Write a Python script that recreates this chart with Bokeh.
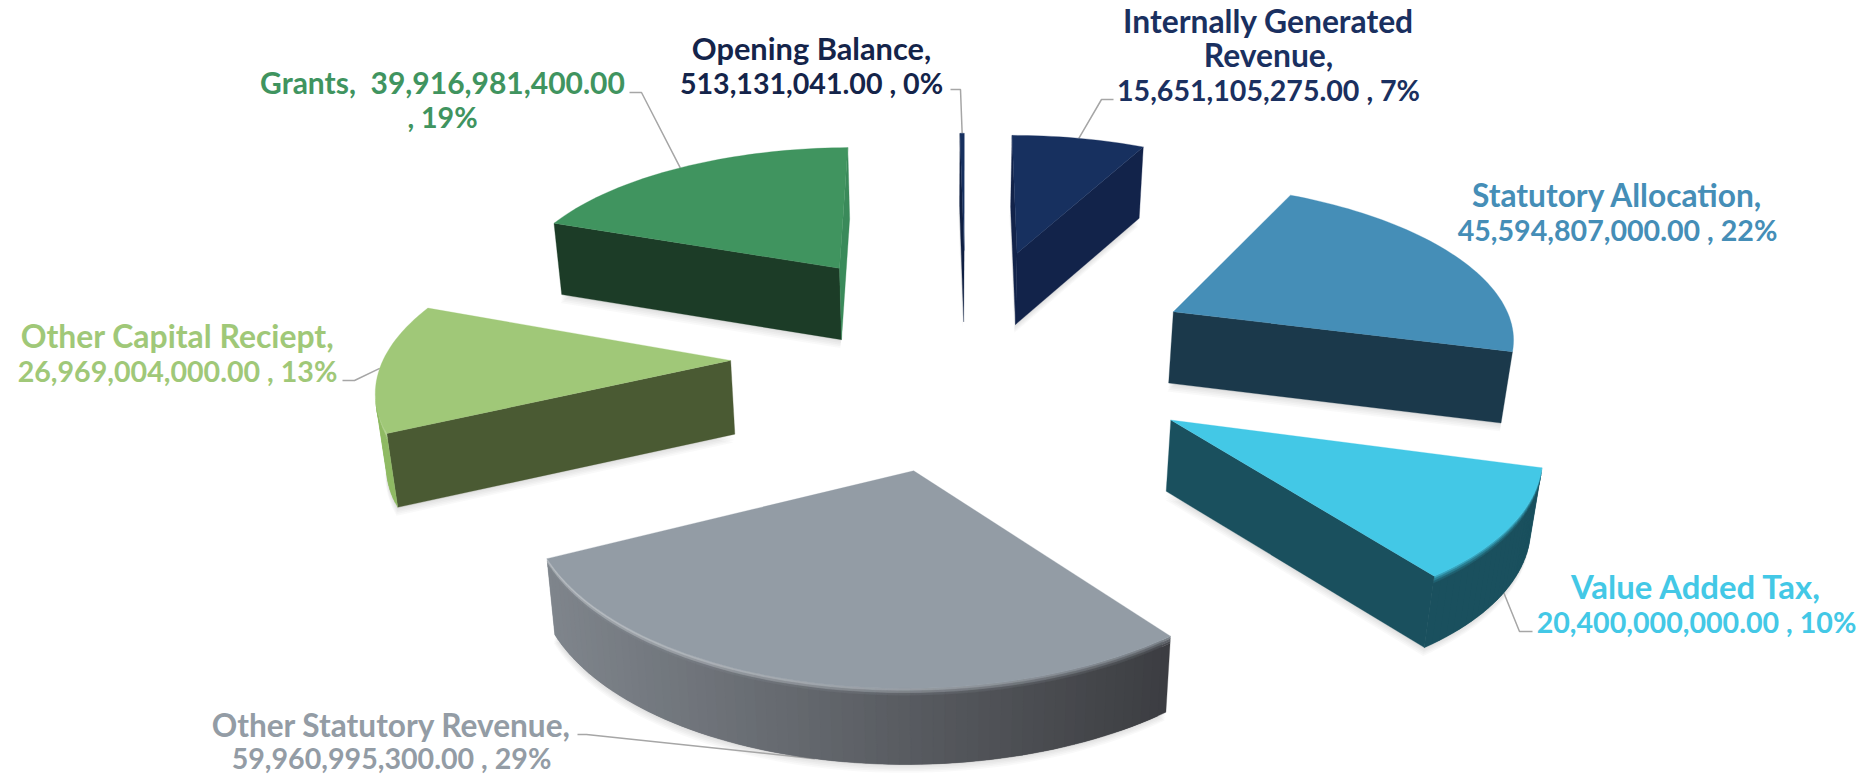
import math
from bokeh.plotting import figure
from bokeh.models import Range1d
from bokeh.embed import file_html
from bokeh.resources import INLINE
from bokeh.core.properties import value

# ---------- data ----------
categories = ["Internally Generated Revenue", "Statutory Allocation", "Value Added Tax",
              "Other Statutory Revenue", "Other Capital Reciept", "Grants", "Opening Balance"]
amounts = [15651105275.00, 45594807000.00, 20400000000.00, 59960995300.00,
           26969004000.00, 39916981400.00, 513131041.00]
label_lines = [
    ["Internally Generated", "Revenue,", "15,651,105,275.00 , 7%"],
    ["Statutory Allocation,", "45,594,807,000.00 , 22%"],
    ["Value Added Tax,", "20,400,000,000.00 , 10%"],
    ["Other Statutory Revenue,", "59,960,995,300.00 , 29%"],
    ["Other Capital Reciept,", "26,969,004,000.00 , 13%"],
    ["Grants,\u00a0\u00a039,916,981,400.00", ", 19%"],
    ["Opening Balance,", "513,131,041.00 , 0%"],
]

# ---------- styles ----------
top_col = ["#17305f", "#458eb7", "#43c8e6", "#939ca5", "#a0c878", "#40945f", "#17305f"]
cut_start_col = ["#12234a", "#1b394b", "#1a505e", "#3c3d41", "#4a5a33", "#1c3c27", "#0f1f42"]
cut_end_col = ["#12234a", "#1b394b", "#1a505e", "#3c3d41", "#4a5a33", "#3a8a5a", "#0f1f42"]
arc_left = ["#12234a", "#2d6585", "#1a505e", "#7f858c", "#8fba64", "#2f7a4c", "#0f1f42"]
arc_right = ["#12234a", "#2d6585", "#1a505e", "#3c3d41", "#8fba64", "#2f7a4c", "#0f1f42"]
rim_light = [0, 0, 0, .4, .35, 0, 0]
label_col = ["#1a3060", "#458eb7", "#43c8e6", "#939ca5", "#a0c878", "#40945f", "#14244a"]
# label centre x and first-line y, full-size pixels
label_x = [1268, 1617, 1696, 391, 177, 442, 811]
label_y = [20, 194, 586, 724, 335, 81, 48]
line_h = [34.5, 35, 35, 33, 35, 35, 34]
name_px = [31.8, 31.7, 32.9, 31.6, 31.9, 30.0, 30.8]
NUM_PX = 28.6
# leader elbow points from the label (full-size px), and whether the anchor is on the lower rim
leader_pts = [[(1113, 99), (1101, 99)], None, [(1532, 631), (1519, 631)], [(577, 734), (586, 734)],
              [(342, 380), (354, 380)], [(629, 92), (641, 92)], [(950, 89), (960, 89)]]
leader_low = [False, False, True, True, False, False, False]
FONT = "Lato"

# ---------- projection (in 1568-wide units) ----------
S = 1864 / 1568
CU, CV, F, B, A = 815.0, 298.0, 280.0, 131.0, 0.125
EXPLODE = 0.73
EX, RX = 0.94, 1.04
height = [60, 60, 60, 64, 62, 60, 60]
nudge = [(-1, 0), (2, 1), (0, 0), (-2, -5), (-8, 0), (-6, 0), (-3, 0)]
edge_start_deg = [0, 0, 0, 1.2, 0, 0, 0]
edge_end_deg = [0, 0, 3.4, 0, 0, 0, 0]
VX = 790.0
BEVEL = [(0, 2, .3), (2, 4, .6), (4, 6, .85)]


def project(X, Y):
    w = 1 - A * Y
    return CU + F * X / w, CV + B * Y / w


def hex2rgb(c):
    return tuple(int(c[i:i + 2], 16) for i in (1, 3, 5))


def mix(c1, c2, t):
    a, b = hex2rgb(c1), hex2rgb(c2)
    return "#%02x%02x%02x" % tuple(int(round(a[i] + (b[i] - a[i]) * t)) for i in range(3))


total = sum(amounts)
slices = []
cum = 0.0
for i, v in enumerate(amounts):
    a0 = cum / total * 2 * math.pi
    cum += v
    a1 = cum / total * 2 * math.pi
    mid = (a0 + a1) / 2
    a0 += math.radians(edge_start_deg[i])
    a1 += math.radians(edge_end_deg[i])
    X0, Y0 = EX * EXPLODE * math.sin(mid), -EXPLODE * math.cos(mid)
    n = max(2, int((a1 - a0) / math.radians(1.5)))
    nx0, ny0 = nudge[i]

    def proj(X, Y):
        u, w = project(X, Y)
        return u + nx0, w + ny0

    rim = []
    for k in range(n + 1):
        t = a0 + (a1 - a0) * k / n
        rim.append(proj(X0 + RX * math.sin(t), Y0 - math.cos(t)))
    apex = proj(X0, Y0)
    anchor = proj(X0 + RX * math.sin(mid), Y0 - math.cos(mid))
    slices.append(dict(i=i, apex=apex, rim=rim, Y0=Y0, anchor=anchor, H=float(height[i])))


def ext(pt, h, H):
    return pt[0] + (VX - pt[0]) * 0.02 * h / H, pt[1] + h


xs, ys, cols = [], [], []
sx, sy = [], []


def add(poly, col):
    xs.append([q[0] * S for q in poly])
    ys.append([q[1] * S for q in poly])
    cols.append(col)


for s in slices:
    H = s["H"]
    poly = [ext(q, H, H) for q in [s["apex"]] + s["rim"]]
    for d in (2, 4, 6, 8, 10):
        sx.append([(q[0] - d * 0.1) * S for q in poly])
        sy.append([(q[1] + d * 0.7) * S for q in poly])

for s in sorted(slices, key=lambda q: q["Y0"]):
    i = s["i"]
    H = s["H"]
    poly = [s["apex"]] + s["rim"]
    m = len(poly)
    area = sum(poly[k][0] * poly[(k + 1) % m][1] - poly[(k + 1) % m][0] * poly[k][1] for k in range(m))
    sign = 1 if area > 0 else -1
    ul = min(q[0] for q in s["rim"])
    ur = max(q[0] for q in s["rim"])
    bands = BEVEL + [(6, H, 1.0)]
    for k in range(m):
        a, b = poly[k], poly[(k + 1) % m]
        dx, dy = b[0] - a[0], b[1] - a[1]
        nx, ny = dy * sign, -dx * sign
        ea, eb = ext(a, H, H), ext(b, H, H)
        ex = (ea[0] - a[0] + eb[0] - b[0]) / 2
        if nx * ex + ny * H <= 0:
            continue
        if k == 0:
            add([a, b, eb, ea], cut_start_col[i])
        elif k == m - 1:
            add([a, b, eb, ea], cut_end_col[i])
        else:
            f = ((a[0] + b[0]) / 2 - ul) / max(1e-6, ur - ul)
            c = mix(arc_left[i], arc_right[i], f)
            # strips overlap the next rim step so no seam shows between them
            nxt = poly[k + 2] if k + 2 < m else b
            for bi, (h0, h1, t) in enumerate(bands):
                col = mix(top_col[i], c, t)
                if bi < 2 and rim_light[i]:
                    col = mix(col, "#ffffff", rim_light[i] * (1 - f) * (1 - bi * .4))
                add([ext(a, h0, H), ext(b, h0, H), ext(nxt, h0, H),
                     ext(nxt, h1, H), ext(b, h1, H), ext(a, h1, H)], col)
    add(poly, top_col[i])

p = figure(width=1864, height=774, x_range=Range1d(0, 1864), y_range=Range1d(774, 0),
           toolbar_location=None, output_backend="svg", min_border=0)
p.axis.visible = False
p.grid.visible = False
p.outline_line_color = None
p.background_fill_color = "#ffffff"

p.patches(sx, sy, fill_color="#555555", fill_alpha=0.035, line_color=None)

for s in slices:
    pts = leader_pts[s["i"]]
    if pts is None:
        continue
    a = ext(s["anchor"], s["H"], s["H"]) if leader_low[s["i"]] else s["anchor"]
    lx = [q[0] for q in pts] + [a[0] * S]
    ly = [q[1] for q in pts] + [a[1] * S]
    p.line(lx, ly, line_color="#a6a6a6", line_width=1.5)

p.patches(xs, ys, fill_color=cols, line_color=cols, line_width=0.3)

for i, lines in enumerate(label_lines):
    for j, t in enumerate(lines):
        is_num = t[0].isdigit() or t[0] == ","
        px = NUM_PX if is_num else name_px[i]
        p.text([label_x[i]], [label_y[i] + j * line_h[i]], text=[t], text_color=label_col[i],
               text_align="center", text_baseline="middle", text_font=value(FONT),
               text_font_style="bold", text_font_size=f"{px}px")

open("out.html", "w").write(file_html(p, INLINE))
